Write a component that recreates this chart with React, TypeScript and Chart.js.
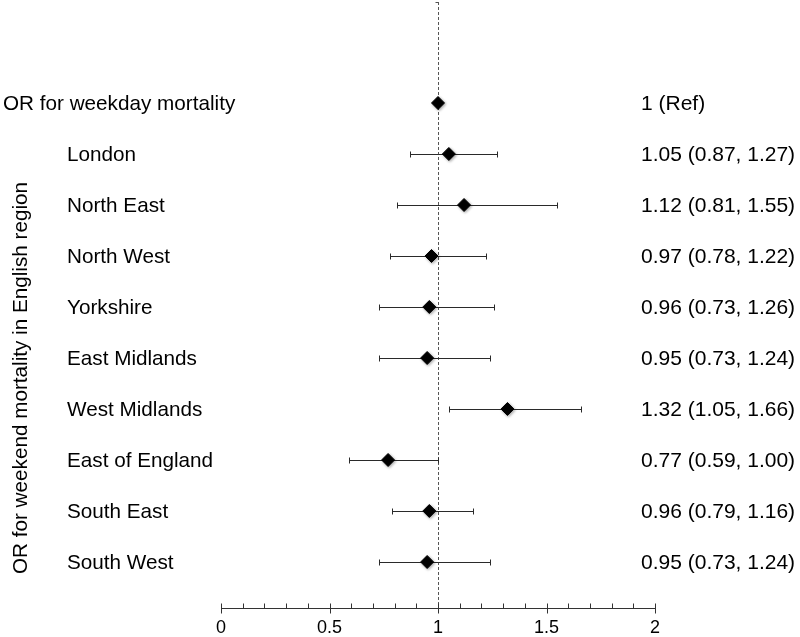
import React, { useEffect, useRef } from "react";
import { Chart, registerables } from "chart.js";

Chart.register(...registerables);

const categories = [
  "OR for weekday mortality",
  "London",
  "North East",
  "North West",
  "Yorkshire",
  "East Midlands",
  "West Midlands",
  "East of England",
  "South East",
  "South West",
];
const orValues = [1, 1.05, 1.12, 0.97, 0.96, 0.95, 1.32, 0.77, 0.96, 0.95];
const ciLower: (number | null)[] = [null, 0.87, 0.81, 0.78, 0.73, 0.73, 1.05, 0.59, 0.79, 0.73];
const ciUpper: (number | null)[] = [null, 1.27, 1.55, 1.22, 1.26, 1.24, 1.66, 1.0, 1.16, 1.24];
const rightLabels = [
  "1 (Ref)",
  "1.05 (0.87, 1.27)",
  "1.12 (0.81, 1.55)",
  "0.97 (0.78, 1.22)",
  "0.96 (0.73, 1.26)",
  "0.95 (0.73, 1.24)",
  "1.32 (1.05, 1.66)",
  "0.77 (0.59, 1.00)",
  "0.96 (0.79, 1.16)",
  "0.95 (0.73, 1.24)",
];
const xMin = 0;
const xMax = 2;
const majorStep = 0.5;
const minorStep = 0.1;
const refValue = 1;
const yTitle = "OR for weekend mortality in English region";

const FONT = '"Liberation Sans", Arial, Helvetica, sans-serif';

const forestPlugin = {
  id: "forest",
  beforeDatasetsDraw(chart: any) {
    const { ctx, chartArea, scales } = chart;
    const xs = scales.x;
    const ys = scales.y;
    ctx.save();
    // reference dashed line
    const rx = Math.round(xs.getPixelForValue(refValue)) + 0.5;
    ctx.strokeStyle = "#555";
    ctx.lineWidth = 1;
    ctx.setLineDash([3, 2]);
    ctx.beginPath();
    ctx.moveTo(rx, chartArea.top);
    ctx.lineTo(rx, chartArea.bottom);
    ctx.stroke();
    ctx.setLineDash([]);
    ctx.beginPath();
    ctx.moveTo(rx - 3, chartArea.top + 0.5);
    ctx.lineTo(rx, chartArea.top + 0.5);
    ctx.stroke();
    // error bars
    ctx.strokeStyle = "#2a2a2a";
    ctx.lineWidth = 1;
    for (let i = 0; i < categories.length; i++) {
      const lo = ciLower[i];
      const hi = ciUpper[i];
      if (lo == null || hi == null) continue;
      const y = Math.round(ys.getPixelForValue(i)) + 0.5;
      const x1 = Math.round(xs.getPixelForValue(lo)) + 0.5;
      const x2 = Math.round(xs.getPixelForValue(hi)) + 0.5;
      ctx.beginPath();
      ctx.moveTo(x1, y);
      ctx.lineTo(x2, y);
      ctx.moveTo(x1, y - 3);
      ctx.lineTo(x1, y + 3);
      ctx.moveTo(x2, y - 3);
      ctx.lineTo(x2, y + 3);
      ctx.stroke();
    }
    ctx.restore();
    ctx.save();
    ctx.shadowColor = "rgba(0,0,0,0.35)";
    ctx.shadowBlur = 3;
    ctx.shadowOffsetX = 1;
    ctx.shadowOffsetY = 1;
  },
  afterDatasetsDraw(chart: any) {
    chart.ctx.restore();
  },
  afterDraw(chart: any) {
    const { ctx, chartArea, scales } = chart;
    const xs = scales.x;
    const ys = scales.y;
    ctx.save();
    // axis tick marks
    const ay = Math.round(chartArea.bottom) + 0.5;
    ctx.strokeStyle = "#333";
    ctx.lineWidth = 1;
    const n = Math.round((xMax - xMin) / minorStep);
    for (let k = 0; k <= n; k++) {
      const v = xMin + k * minorStep;
      const x = Math.round(xs.getPixelForValue(v)) + 0.5;
      const isMajor = Math.abs(v / majorStep - Math.round(v / majorStep)) < 1e-6;
      ctx.beginPath();
      ctx.moveTo(x, ay - 5);
      ctx.lineTo(x, isMajor ? ay + 5 : ay);
      ctx.stroke();
    }
    // labels
    ctx.fillStyle = "#000";
    ctx.textBaseline = "alphabetic";
    ctx.textAlign = "left";
    for (let i = 0; i < categories.length; i++) {
      const y = ys.getPixelForValue(i) + 7;
      ctx.font = `20.7px ${FONT}`;
      ctx.fillText(categories[i], i === 0 ? 3 : 67, y);
      ctx.font = `21px ${FONT}`;
      ctx.fillText(rightLabels[i], 641, y);
    }
    // y title
    ctx.font = `20.7px ${FONT}`;
    ctx.translate(27, 378);
    ctx.rotate(-Math.PI / 2);
    ctx.textAlign = "center";
    ctx.fillText(yTitle, 0, 0);
    ctx.restore();
  },
};

export default function App() {
  const ref = useRef<HTMLCanvasElement | null>(null);
  useEffect(() => {
    if (!ref.current) return;
    const chart = new Chart(ref.current, {
      type: "scatter",
      data: {
        datasets: [
          {
            data: orValues.map((v, i) => ({ x: v, y: i })),
            pointStyle: "rectRot",
            pointRadius: 6.5,
            pointBackgroundColor: "#000",
            pointBorderColor: "#000",
            pointBorderWidth: 1,
          },
        ],
      },
      options: {
        responsive: false,
        animation: false,
        devicePixelRatio: 1,
        layout: { autoPadding: false, padding: { left: 221, right: 145, top: 2, bottom: 0 } },
        plugins: { legend: { display: false }, tooltip: { enabled: false } },
        scales: {
          x: {
            type: "linear",
            position: "bottom",
            min: xMin,
            max: xMax,
            afterFit: (scale: any) => {
              scale.height = 29;
            },
            grid: { display: false, drawTicks: false },
            border: { display: true, color: "#333", width: 1 },
            ticks: {
              stepSize: majorStep,
              padding: 9,
              color: "#000",
              font: { family: FONT, size: 18 },
              maxRotation: 0,
              callback: (v: any) => String(v),
            },
          },
          y: {
            type: "linear",
            display: false,
            reverse: true,
            min: -1.98,
            max: 9.902,
          },
        },
      },
      plugins: [forestPlugin],
    });
    return () => chart.destroy();
  }, []);
  return (
    <div style={{ position: "fixed", left: 0, top: 0, width: 800, height: 637, background: "#fff" }}>
      <canvas ref={ref} width={800} height={637} style={{ width: 800, height: 637 }} />
    </div>
  );
}
